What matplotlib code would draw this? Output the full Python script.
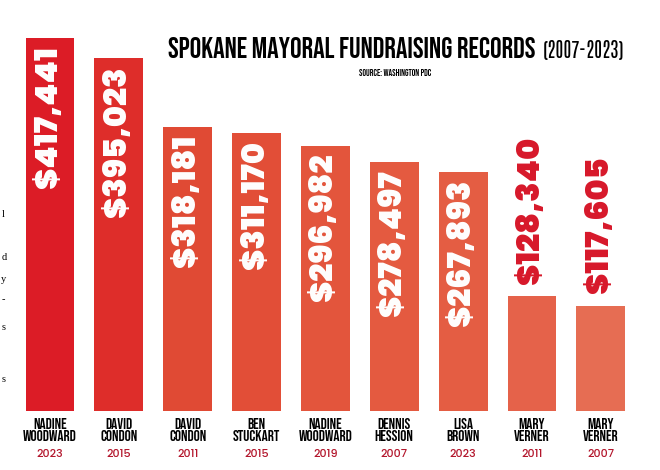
import matplotlib.pyplot as plt

names = ["NADINE\nWOODWARD", "DAVID\nCONDON", "DAVID\nCONDON", "BEN\nSTUCKART",
         "NADINE\nWOODWARD", "DENNIS\nHESSION", "LISA\nBROWN", "MARY\nVERNER", "MARY\nVERNER"]
years = ["2023", "2015", "2011", "2015", "2019", "2007", "2023", "2011", "2007"]
amounts = [417441, 395023, 318181, 311170, 296982, 278497, 267893, 128340, 117605]
colors = ["#DC1C26", "#DE2D2A", "#E04A34", "#E24E37", "#E3553C", "#E45A40",
          "#E45D43", "#E5624A", "#E66D53"]
# cut-off letters of the neighbouring newspaper column on the left edge
edge_chars = ["l", "d", "y", "-", "s", "s"]
edge_y = [215, 257, 279, 300, 328, 380]

fig = plt.figure(figsize=(6.6, 4.7), dpi=100)
ax = fig.add_axes([0.0236, 0.1255, 0.939, 0.8745])
x = range(len(amounts))
ax.bar(x, amounts, width=0.71, color=colors)
ax.set_xlim(-0.5, 8.5)
ax.set_ylim(0, 460000)
ax.axis("off")

for i, v in enumerate(amounts):
    label = f"${v:,}"
    if v > 200000:
        ax.annotate(label, (i, v), xytext=(0, -6), textcoords="offset points",
                    rotation=90, ha="center", va="top", color="white",
                    fontsize=23, fontweight=900, family="Poppins")
    else:
        ax.annotate(label, (i, v), xytext=(0, 9), textcoords="offset points",
                    rotation=90, ha="center", va="bottom", color="#D7182A",
                    fontsize=23, fontweight=900, family="Poppins")
    ax.annotate(names[i], (i, 0), xytext=(0, -5), textcoords="offset points",
                ha="center", va="top", fontsize=11, family="Bebas Neue",
                linespacing=1.1)
    ax.annotate(years[i], (i, 0), xytext=(0, -27), textcoords="offset points",
                ha="center", va="top", fontsize=8, fontweight="medium",
                color="#B3162C", family="Poppins")

for c, yy in zip(edge_chars, edge_y):
    fig.text(0.002, 1 - yy / 470, c, fontsize=7.5, family="Liberation Serif",
             ha="left", va="center")

title = fig.text(0.254, 0.877, "SPOKANE MAYORAL FUNDRAISING RECORDS", fontsize=20.7,
                 family="Bebas Neue", ha="left", va="baseline")
fig.canvas.draw()
bb = title.get_window_extent().transformed(fig.transFigure.inverted())
fig.text(bb.x1 + 0.012, 0.877, "(2007-2023)", fontsize=14, family="Antonio",
         ha="left", va="baseline")
fig.text(0.598, 0.838, "SOURCE: WASHINGTON PDC", fontsize=6.5,
         family="Bebas Neue", ha="center", va="baseline")

fig.savefig("out.png", dpi=100)
